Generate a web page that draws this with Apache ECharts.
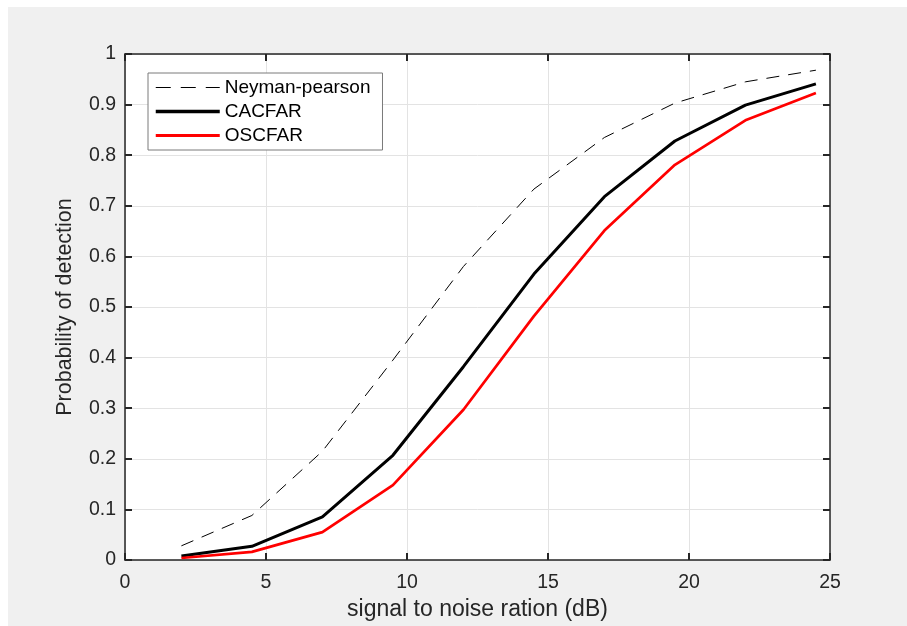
<!DOCTYPE html>
<html>
<head>
<meta charset="utf-8">
<title>Probability of detection</title>
<script src="https://cdn.jsdelivr.net/npm/echarts@6.0.0/dist/echarts.min.js"></script>
<style>
  html, body { margin: 0; padding: 0; background: #ffffff; }
  #chart { position: absolute; left: 8px; top: 7px; width: 899px; height: 619px; }
</style>
</head>
<body>
<div id="chart"></div>
<script>
// data
const snrDb = [2, 4.5, 7, 9.5, 12, 14.5, 17, 19.5, 22, 24.5];
const neymanPearson = [0.028, 0.088, 0.215, 0.395, 0.58, 0.733, 0.835, 0.903, 0.945, 0.968];
const caCfar = [0.008, 0.027, 0.085, 0.207, 0.382, 0.565, 0.718, 0.828, 0.899, 0.941];
const osCfar = [0.004, 0.016, 0.055, 0.148, 0.297, 0.482, 0.651, 0.781, 0.869, 0.923];

const seriesNames = ['Neyman-pearson', 'CACFAR', 'OSCFAR'];

// styles
const FONT = 'Liberation Sans, Arial, sans-serif';
const AXIS_COLOR = '#262626';
const GRID_COLOR = '#e3e3e3';

// pair x with y
function toPoints(ys) {
  return snrDb.map((x, i) => [x, ys[i]]);
}

// mirror axes give the ticks on top and right like matlab
function mirrorAxis(base) {
  return Object.assign({
    show: true,
    axisLine: { show: true, onZero: false, lineStyle: { color: AXIS_COLOR, width: 1.5 } },
    axisTick: { show: true, inside: true, length: 7, lineStyle: { color: AXIS_COLOR, width: 2 } },
    axisLabel: { show: false },
    splitLine: { show: false }
  }, base);
}

const chart = echarts.init(document.getElementById('chart'));

chart.setOption({
  backgroundColor: '#f0f0f0',
  animation: false,
  grid: {
    left: 117, top: 47, right: 77, bottom: 66,
    show: true, backgroundColor: '#ffffff', borderWidth: 0
  },
  legend: {
    orient: 'vertical',
    left: 140, top: 66,
    data: [
      { name: seriesNames[0], lineStyle: { width: 1, type: [15, 10] } },
      { name: seriesNames[1], lineStyle: { width: 3.5 } },
      { name: seriesNames[2], lineStyle: { width: 3 } }
    ],
    backgroundColor: '#ffffff',
    borderColor: '#7a7a7a',
    borderWidth: 1,
    borderRadius: 0,
    padding: [5, 12, 5, 6],
    itemWidth: 64,
    itemHeight: 14,
    itemGap: 5,
    itemStyle: { opacity: 0 },
    textStyle: { fontFamily: FONT, fontSize: 19, color: '#000000' }
  },
  xAxis: [
    {
      type: 'value', min: 0, max: 25, interval: 5,
      name: 'signal to noise ration (dB)',
      nameLocation: 'middle', nameGap: 37,
      nameTextStyle: { fontFamily: FONT, fontSize: 23, color: AXIS_COLOR },
      axisLine: { show: true, onZero: false, lineStyle: { color: AXIS_COLOR, width: 1.5 } },
      axisTick: { show: true, inside: true, length: 7, lineStyle: { color: AXIS_COLOR, width: 2 } },
      axisLabel: { margin: 13, fontFamily: FONT, fontSize: 19.5, color: AXIS_COLOR },
      splitLine: { show: true, lineStyle: { color: GRID_COLOR, width: 1 } }
    },
    mirrorAxis({ type: 'value', min: 0, max: 25, interval: 5, position: 'top' })
  ],
  yAxis: [
    {
      type: 'value', min: 0, max: 1, interval: 0.1,
      name: 'Probability of detection',
      nameLocation: 'middle', nameGap: 49,
      nameTextStyle: { fontFamily: FONT, fontSize: 21.5, color: AXIS_COLOR },
      axisLine: { show: true, onZero: false, lineStyle: { color: AXIS_COLOR, width: 1.5 } },
      axisTick: { show: true, inside: true, length: 7, lineStyle: { color: AXIS_COLOR, width: 2 } },
      axisLabel: { margin: 9, fontFamily: FONT, fontSize: 19.5, color: AXIS_COLOR },
      splitLine: { show: true, lineStyle: { color: GRID_COLOR, width: 1 } }
    },
    mirrorAxis({ type: 'value', min: 0, max: 1, interval: 0.1, position: 'right' })
  ],
  series: [
    {
      name: seriesNames[0], type: 'line', symbol: 'none',
      data: toPoints(neymanPearson),
      lineStyle: { color: '#000000', width: 1, type: [13, 9] },
      itemStyle: { color: '#000000' }
    },
    {
      name: seriesNames[1], type: 'line', symbol: 'none',
      data: toPoints(caCfar),
      lineStyle: { color: '#000000', width: 3 },
      itemStyle: { color: '#000000' }
    },
    {
      name: seriesNames[2], type: 'line', symbol: 'none',
      data: toPoints(osCfar),
      lineStyle: { color: '#ff0000', width: 2.7 },
      itemStyle: { color: '#ff0000' }
    },
    // empty series so the top and right axes get drawn
    {
      name: 'mirror', type: 'line', silent: true,
      xAxisIndex: 1, yAxisIndex: 1, data: []
    }
  ]
});
</script>
</body>
</html>
